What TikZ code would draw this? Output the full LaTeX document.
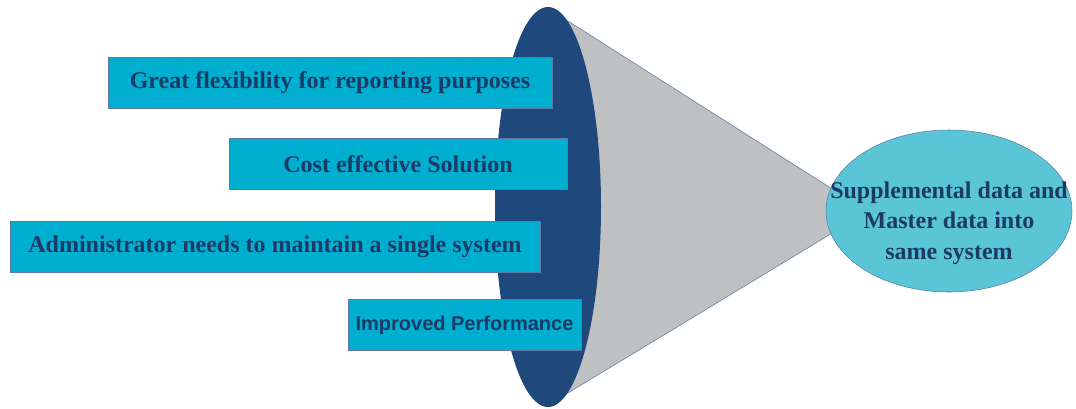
\documentclass[tikz,border=0pt]{standalone}
\usepackage{fontspec}
\setmainfont{Liberation Serif}
\newfontfamily\perffont{Liberation Sans}
\usetikzlibrary{shapes.geometric,backgrounds}

\definecolor{boxfill}{HTML}{00AECF}
\definecolor{boxtext}{HTML}{1B3A66}
\definecolor{boxline}{HTML}{5B7BA6}
\definecolor{funnelblue}{HTML}{1F497D}
\definecolor{conegray}{HTML}{BFC0C2}
\definecolor{resultfill}{HTML}{5BC5D8}

\tikzset{
	benefit/.style={draw=boxline, fill=boxfill, text=boxtext, inner sep=0pt,
		font=\bfseries\fontsize{18}{21}\selectfont, minimum height=51*0.75pt},
}

\begin{document}
\begin{tikzpicture}[x=0.75pt,y=-0.75pt]
	\useasboundingbox (0,0) rectangle (1076,408);
	
	\newcommand\drawBenefit[5]{\node[benefit,minimum width=#3*0.75pt] at (#1,#2) (#4) {#5};}
	
	\node[ellipse,fill=funnelblue,inner sep=0pt,minimum width=106*0.75pt,minimum height=400*0.75pt] at (548,207) (funnel) {};
	\node[ellipse,draw=boxline,fill=resultfill,inner sep=0pt,minimum width=246*0.75pt,minimum height=162*0.75pt] at (949,211) (result) {};
	\node[text=boxtext,align=center,font=\bfseries\fontsize{18}{23}\selectfont] at ([yshift=-9pt]result.center) (resulttext)
		{Supplemental data and\\Master data into\\same system};
	
	\begin{pgfonlayer}{background}
		\filldraw[fill=conegray,draw=boxline] (funnel.84) -- (result.169) -- (result.191) -- (funnel.-84) -- cycle;
	\end{pgfonlayer}
	
	\drawBenefit{330}{83}{444}{flex}{Great flexibility for reporting purposes}
	\drawBenefit{398}{164}{338}{cost}{Cost effective Solution}
	\drawBenefit{275}{247}{530}{admin}{Administrator needs to maintain a single system}
	\drawBenefit{464.5}{325}{233}{perf}{\perffont\fontsize{15}{18}\selectfont Improved Performance}
	
\end{tikzpicture}
\end{document}
